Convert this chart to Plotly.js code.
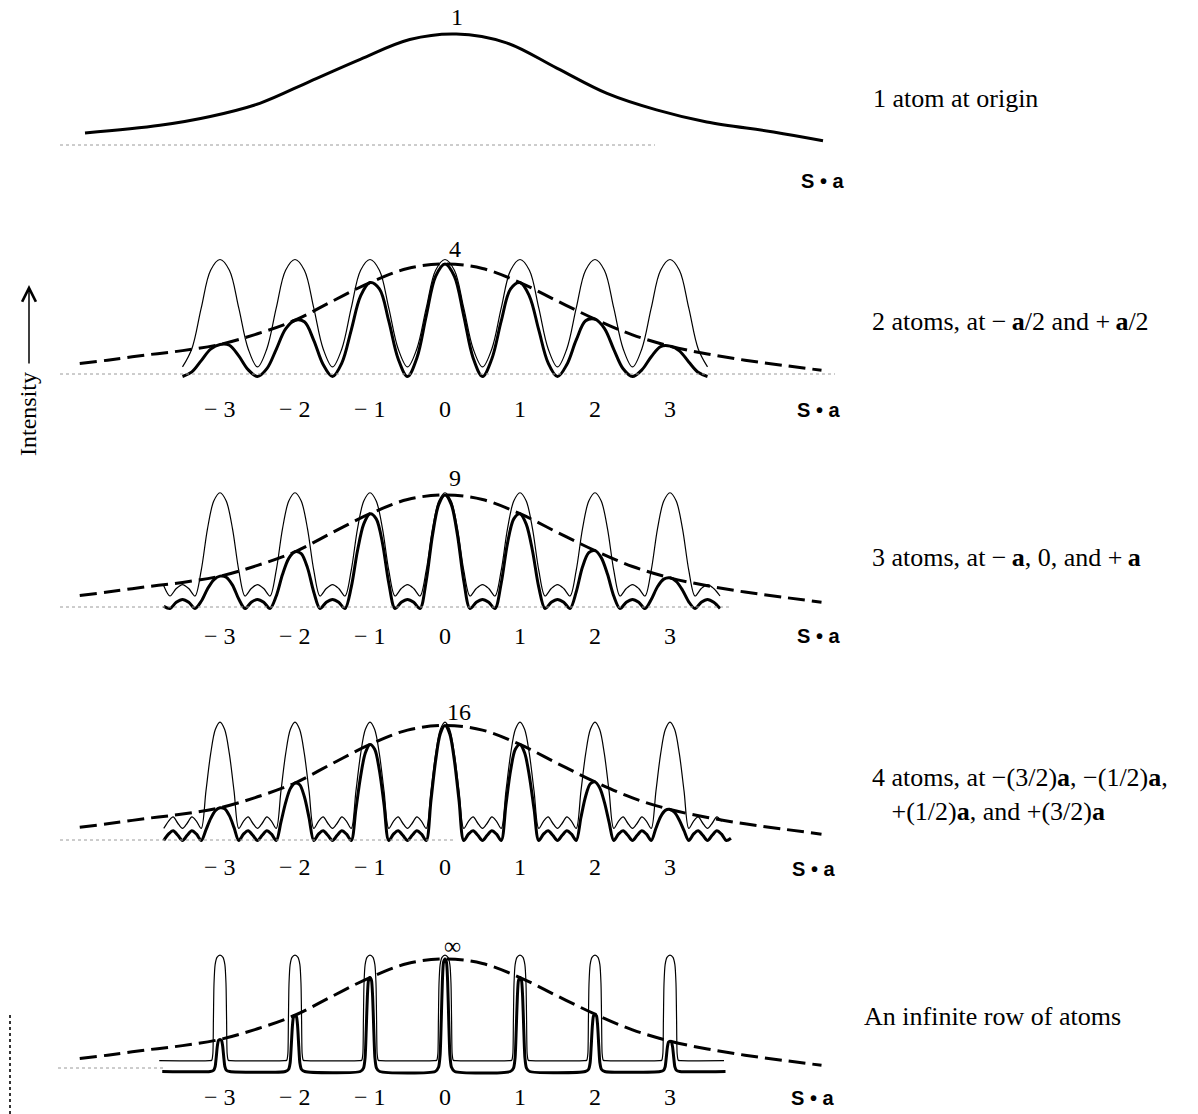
<!DOCTYPE html>
<html><head><meta charset="utf-8">
<script src="https://cdn.plot.ly/plotly-3.0.1.min.js"></script>
<style>html,body{margin:0;padding:0;background:#fff}#chart{width:1198px;height:1114px}</style>
</head><body><div id="chart"></div>
<script>
// ---------- DATA (S·a along x, relative intensity along y; each panel's peak = 1) ----------
// Panel 1: one atom (solid curve)
const p1X = [-4.80,-3.80,-3.13,-2.47,-1.80,-1.13,-0.47,0.15,0.82,1.49,2.16,2.82,3.49,4.38,5.04];
const p1Y = [0.10,0.17,0.25,0.37,0.57,0.77,0.95,1.00,0.92,0.69,0.46,0.31,0.20,0.11,0.03];

// Dashed envelope (N^2 f^2) used in panels 2-5
const envX = [-4.87,-4.5,-4,-3.5,-3,-2.5,-2,-1.5,-1,-0.5,0,0.5,1,1.5,2,2.5,3,3.5,4,4.5,5.02];
const envY = [0.115,0.145,0.19,0.23,0.285,0.38,0.50,0.67,0.835,0.96,1.0,0.96,0.835,0.67,0.51,0.37,0.27,0.20,0.145,0.10,0.055];

// Panel 2: two atoms
const p2X = [-3.5,-3.375,-3.25,-3.125,-3,-2.875,-2.75,-2.625,-2.5,-2.375,-2.25,-2.125,-2,-1.875,-1.75,-1.625,-1.5,-1.375,-1.25,-1.125,-1,-0.875,-0.75,-0.625,-0.5,-0.375,-0.25,-0.125,0,0.125,0.25,0.375,0.5,0.625,0.75,0.875,1,1.125,1.25,1.375,1.5,1.625,1.75,1.875,2,2.125,2.25,2.375,2.5,2.625,2.75,2.875,3,3.125,3.25,3.375,3.5];
const p2Thin = [0.085,0.247,0.61,0.945,1.04,0.945,0.61,0.247,
  0.085,0.247,0.61,0.945,1.04,0.945,0.61,0.247,
  0.085,0.247,0.61,0.945,1.04,0.945,0.61,0.247,
  0.085,0.247,0.61,0.945,1.04,0.945,0.61,0.247,
  0.085,0.247,0.61,0.945,1.04,0.945,0.61,0.247,
  0.085,0.247,0.61,0.945,1.04,0.945,0.61,0.247,
  0.085,0.247,0.61,0.945,1.04,0.945,0.61,0.247,
  0.085];
const p2Thick = [0,0.041,0.141,0.244,0.285,0.278,0.183,0.061,
  0,0.070,0.242,0.423,0.50,0.486,0.322,0.107,
  0,0.121,0.413,0.716,0.835,0.779,0.494,0.158,
  0,0.165,0.539,0.891,1.0,0.891,0.539,0.165,
  0,0.158,0.494,0.779,0.835,0.715,0.414,0.121,
  0,0.107,0.325,0.495,0.51,0.428,0.242,0.069,
  0,0.059,0.176,0.266,0.27,0.228,0.129,0.037,
  0];

// Panel 3: three atoms
const p3X = [-3.75,-3.667,-3.583,-3.5,-3.417,-3.333,-3.25,-3.167,-3.083,-3,
  -2.917,-2.833,-2.75,-2.667,-2.583,-2.5,-2.417,-2.333,-2.25,-2.167,-2.083,-2,
  -1.917,-1.833,-1.75,-1.667,-1.583,-1.5,-1.417,-1.333,-1.25,-1.167,-1.083,-1,
  -0.917,-0.833,-0.75,-0.667,-0.583,-0.5,-0.417,-0.333,-0.25,-0.167,-0.083,0,
  0.083,0.167,0.25,0.333,0.417,0.5,0.583,0.667,0.75,0.833,0.917,1,
  1.083,1.167,1.25,1.333,1.417,1.5,1.583,1.667,1.75,1.833,1.917,2,
  2.083,2.167,2.25,2.333,2.417,2.5,2.583,2.667,2.75,2.833,2.917,3,
  3.083,3.167,3.25,3.333,3.417,3.5,3.583,3.667];
const p3Thin = [0.2,0.11,0.176,0.211,0.176,0.11,0.338,0.702,0.947,1.02,
  0.947,0.702,0.338,0.11,0.176,0.211,0.176,0.11,0.338,0.702,0.947,1.02,
  0.947,0.702,0.338,0.11,0.176,0.211,0.176,0.11,0.338,0.702,0.947,1.02,
  0.947,0.702,0.338,0.11,0.176,0.211,0.176,0.11,0.338,0.702,0.947,1.02,
  0.947,0.702,0.338,0.11,0.176,0.211,0.176,0.11,0.338,0.702,0.947,1.02,
  0.947,0.702,0.338,0.11,0.176,0.211,0.176,0.11,0.338,0.702,0.947,1.02,
  0.947,0.702,0.338,0.11,0.176,0.211,0.176,0.11,0.338,0.702,0.947,1.02,
  0.947,0.702,0.338,0.11,0.176,0.211,0.176,0.11];
const p3Thick = [0.02,0,0.055,0.08,0.055,0,0.064,0.172,0.253,0.285,
  0.276,0.206,0.083,0,0.055,0.08,0.055,0,0.11,0.299,0.442,0.50,
  0.483,0.358,0.146,0,0.055,0.08,0.055,0,0.188,0.509,0.745,0.835,
  0.79,0.574,0.225,0,0.055,0.08,0.055,0,0.245,0.644,0.917,1.0,
  0.917,0.644,0.245,0,0.055,0.08,0.055,0,0.225,0.574,0.79,0.835,
  0.743,0.507,0.188,0,0.055,0.08,0.055,0,0.148,0.366,0.492,0.51,
  0.448,0.301,0.11,0,0.055,0.08,0.055,0,0.08,0.192,0.259,0.27,
  0.238,0.161,0.059,0,0.055,0.08,0.055,0];

// Panel 4: four atoms
const p4X = [-3.75,-3.6875,-3.625,-3.5625,-3.5,-3.4375,-3.375,-3.3125,-3.25,-3.1875,-3.125,-3.0625,-3,
  -2.9375,-2.875,-2.8125,-2.75,-2.6875,-2.625,-2.5625,-2.5,-2.4375,-2.375,-2.3125,-2.25,-2.1875,-2.125,-2.0625,-2,
  -1.9375,-1.875,-1.8125,-1.75,-1.6875,-1.625,-1.5625,-1.5,-1.4375,-1.375,-1.3125,-1.25,-1.1875,-1.125,-1.0625,-1,
  -0.9375,-0.875,-0.8125,-0.75,-0.6875,-0.625,-0.5625,-0.5,-0.4375,-0.375,-0.3125,-0.25,-0.1875,-0.125,-0.0625,0,
  0.0625,0.125,0.1875,0.25,0.3125,0.375,0.4375,0.5,0.5625,0.625,0.6875,0.75,0.8125,0.875,0.9375,1,
  1.0625,1.125,1.1875,1.25,1.3125,1.375,1.4375,1.5,1.5625,1.625,1.6875,1.75,1.8125,1.875,1.9375,2,
  2.0625,2.125,2.1875,2.25,2.3125,2.375,2.4375,2.5,2.5625,2.625,2.6875,2.75,2.8125,2.875,2.9375,3,
  3.0625,3.125,3.1875,3.25,3.3125,3.375,3.4375,3.5,3.5625,3.625,3.6875,3.75,3.8125];
const p4Thin = [0.105,0.167,0.205,0.15,0.105,0.15,0.205,0.167,0.105,0.429,0.753,0.965,1.03,
  0.965,0.753,0.429,0.105,0.167,0.205,0.15,0.105,0.15,0.205,0.167,0.105,0.429,0.753,0.965,1.03,
  0.965,0.753,0.429,0.105,0.167,0.205,0.15,0.105,0.15,0.205,0.167,0.105,0.429,0.753,0.965,1.03,
  0.965,0.753,0.429,0.105,0.167,0.205,0.15,0.105,0.15,0.205,0.167,0.105,0.429,0.753,0.965,1.03,
  0.965,0.753,0.429,0.105,0.167,0.205,0.15,0.105,0.15,0.205,0.167,0.105,0.429,0.753,0.965,1.03,
  0.965,0.753,0.429,0.105,0.167,0.205,0.15,0.105,0.15,0.205,0.167,0.105,0.429,0.753,0.965,1.03,
  0.965,0.753,0.429,0.105,0.167,0.205,0.15,0.105,0.15,0.205,0.167,0.105,0.429,0.753,0.965,1.03,
  0.965,0.753,0.429,0.105,0.167,0.205,0.15,0.105,0.15,0.205,0.167];
const p4Thick = [0,0.055,0.085,0.045,0,0.045,0.085,0.055,0,0.092,0.19,0.259,0.285,
  0.276,0.216,0.112,0,0.055,0.085,0.045,0,0.045,0.085,0.055,0,0.159,0.329,0.451,0.50,
  0.485,0.38,0.197,0,0.055,0.085,0.045,0,0.045,0.085,0.055,0,0.273,0.559,0.76,0.835,
  0.793,0.61,0.311,0,0.055,0.085,0.045,0,0.045,0.085,0.055,0,0.345,0.695,0.928,1.0,
  0.928,0.695,0.345,0,0.055,0.085,0.045,0,0.045,0.085,0.055,0,0.311,0.61,0.793,0.835,
  0.76,0.559,0.273,0,0.055,0.085,0.045,0,0.045,0.085,0.055,0,0.2,0.385,0.493,0.51,
  0.458,0.333,0.16,0,0.055,0.085,0.045,0,0.045,0.085,0.055,0,0.107,0.207,0.262,0.27,
  0.243,0.176,0.085,0,0.055,0.085,0.045,0,0.045,0.085,0.055,0,0.02];

// Panel 5: infinite row
const p5ThinX = [-3.81,
  -3.14,-3.11,-3.095,-3.088,-3.08,-3.065,-3.04,-3,-2.96,-2.935,-2.92,-2.912,-2.905,-2.89,-2.86,
  -2.14,-2.11,-2.095,-2.088,-2.08,-2.065,-2.04,-2,-1.96,-1.935,-1.92,-1.912,-1.905,-1.89,-1.86,
  -1.14,-1.11,-1.095,-1.088,-1.08,-1.065,-1.04,-1,-0.96,-0.935,-0.92,-0.912,-0.905,-0.89,-0.86,
  -0.14,-0.11,-0.095,-0.088,-0.08,-0.065,-0.04,0,0.04,0.065,0.08,0.088,0.095,0.11,0.14,
  0.86,0.89,0.905,0.912,0.92,0.935,0.96,1,1.04,1.065,1.08,1.088,1.095,1.11,1.14,
  1.86,1.89,1.905,1.912,1.92,1.935,1.96,2,2.04,2.065,2.08,2.088,2.095,2.11,2.14,
  2.86,2.89,2.905,2.912,2.92,2.935,2.96,3,3.04,3.065,3.08,3.088,3.095,3.11,3.14,
  3.72];
const p5Thin = [0.096,
  0.096,0.1,0.16,0.45,0.78,0.95,1.015,1.035,1.015,0.95,0.78,0.45,0.16,0.1,0.096,
  0.096,0.1,0.16,0.45,0.78,0.95,1.015,1.035,1.015,0.95,0.78,0.45,0.16,0.1,0.096,
  0.096,0.1,0.16,0.45,0.78,0.95,1.015,1.035,1.015,0.95,0.78,0.45,0.16,0.1,0.096,
  0.096,0.1,0.16,0.45,0.78,0.95,1.015,1.035,1.015,0.95,0.78,0.45,0.16,0.1,0.096,
  0.096,0.1,0.16,0.45,0.78,0.95,1.015,1.035,1.015,0.95,0.78,0.45,0.16,0.1,0.096,
  0.096,0.1,0.16,0.45,0.78,0.95,1.015,1.035,1.015,0.95,0.78,0.45,0.16,0.1,0.096,
  0.096,0.1,0.16,0.45,0.78,0.95,1.015,1.035,1.015,0.95,0.78,0.45,0.16,0.1,0.096,
  0.096];
const p5ThickX = [-3.77,
  -3.13,-3.085,-3.065,-3.05,-3.035,-3.02,-3,-2.98,-2.965,-2.95,-2.935,-2.915,-2.87,
  -2.13,-2.085,-2.065,-2.05,-2.035,-2.02,-2,-1.98,-1.965,-1.95,-1.935,-1.915,-1.87,
  -1.13,-1.085,-1.065,-1.05,-1.035,-1.02,-1,-0.98,-0.965,-0.95,-0.935,-0.915,-0.87,
  -0.13,-0.085,-0.065,-0.05,-0.035,-0.02,0,0.02,0.035,0.05,0.065,0.085,0.13,
  0.87,0.915,0.935,0.95,0.965,0.98,1,1.02,1.035,1.05,1.065,1.085,1.13,
  1.87,1.915,1.935,1.95,1.965,1.98,2,2.02,2.035,2.05,2.065,2.085,2.13,
  2.87,2.915,2.935,2.95,2.965,2.98,3,3.02,3.035,3.05,3.065,3.085,3.13,
  3.74];
const p5Thick = [0,
  0,0.011,0.043,0.128,0.228,0.276,0.285,0.276,0.228,0.128,0.043,0.011,0,
  0,0.02,0.075,0.225,0.40,0.485,0.50,0.485,0.40,0.225,0.075,0.02,0,
  0,0.033,0.125,0.376,0.668,0.81,0.835,0.81,0.668,0.376,0.125,0.033,0,
  0,0.04,0.15,0.45,0.80,0.97,1.0,0.97,0.80,0.45,0.15,0.04,0,
  0,0.033,0.125,0.376,0.668,0.81,0.835,0.81,0.668,0.376,0.125,0.033,0,
  0,0.02,0.077,0.23,0.408,0.495,0.51,0.495,0.408,0.23,0.077,0.02,0,
  0,0.011,0.041,0.122,0.216,0.262,0.27,0.262,0.216,0.122,0.041,0.011,0,
  0];

// Text
const peakLabels = ['1','4','9','16','∞'];
const tickVals = [-3,-2,-1,0,1,2,3];
const tickText = ['− 3','− 2','− 1','0','1','2','3'];
const panelLabels = [
  '1 atom at origin',
  '2 atoms, at −\u2009<b>a</b>/2 and +\u2009<b>a</b>/2',
  '3 atoms, at −\u2009<b>a</b>, 0, and +\u2009<b>a</b>',
  '4 atoms, at −(3/2)<b>a</b>, −(1/2)<b>a</b>,<br>\u00A0\u00A0\u00A0+(1/2)<b>a</b>, and +(3/2)<b>a</b>',
  'An infinite row of atoms'
];
const axisLabel = '<b>S • a</b>';
const sideLabel = 'Intensity';

// ---------- LAYOUT ----------
const W = 1198, H = 1114;
const SERIF = '"Liberation Serif","Times New Roman",serif';
const SANS = '"Liberation Sans",Arial,sans-serif';
const panels = [{z:144,h:110},{z:376.5,h:112.5},{z:608.5,h:113.5},{z:840.5,h:115},{z:1071.5,h:112.5}];
const R0 = -0.3, R1 = 1.3;
const px = x => x / W, py = y => 1 - y / H;

const layout = {
  width: W, height: H, margin: {l:0, r:0, t:0, b:0},
  paper_bgcolor: '#fff', plot_bgcolor: '#fff', showlegend: false,
  xaxis: {range: [-445/75, 753/75], visible: false, fixedrange: true},
  shapes: [], annotations: []
};
panels.forEach((p, i) => {
  const d0 = Math.max(0, 1 - (p.z - R0 * p.h) / H);
  const d1 = Math.min(1, 1 - (p.z - R1 * p.h) / H);
  layout[i === 0 ? 'yaxis' : 'yaxis' + (i + 1)] = {domain: [d0, d1], range: [R0, R1], visible: false, fixedrange: true, anchor: 'x'};
});
const yName = i => i === 0 ? 'y' : 'y' + (i + 1);

function line(x, y, i, width, dash, smooth) {
  return {type: 'scatter', mode: 'lines', x: x, y: y, xaxis: 'x', yaxis: yName(i),
    line: {color: '#000', width: width, dash: dash || 'solid', shape: 'spline', smoothing: smooth || 1},
    hoverinfo: 'skip'};
}
const DASH = '17px,7px';
const traces = [
  line(p1X, p1Y, 0, 3),
  line(p2X, p2Thin, 1, 1.2), line(envX, envY, 1, 3, DASH), line(p2X, p2Thick, 1, 3),
  line(p3X, p3Thin, 2, 1.2, null, 0.9), line(envX, envY, 2, 3, DASH), line(p3X, p3Thick, 2, 3, null, 0.9),
  line(p4X.slice(0, p4Thin.length), p4Thin, 3, 1.2, null, 0.9), line(envX, envY, 3, 3, DASH), line(p4X, p4Thick, 3, 3, null, 0.9),
  line(p5ThinX, p5Thin, 4, 1.2, null, 0.6), line(envX, envY, 4, 3, DASH), line(p5ThickX, p5Thick, 4, 3, null, 0.6)
];

// faint dotted baselines (scan residue of the zero lines)
const base = [[60,655,145],[60,835,374],[60,730,607],[60,455,840],[58,163,1068]];
base.forEach(b => layout.shapes.push({type:'line', xref:'paper', yref:'paper',
  x0: px(b[0]), x1: px(b[1]), y0: py(b[2]), y1: py(b[2]),
  line: {color: '#9a9a9a', width: 1, dash: 'dot'}}));
// left margin mark
layout.shapes.push({type:'line', xref:'paper', yref:'paper', x0: px(10), x1: px(10), y0: py(1015), y1: py(1114),
  line: {color: '#333', width: 2, dash: 'dot'}});

const ann = layout.annotations;
function txt(t, x, y, size, family, anchor) {
  ann.push({text: t, xref: 'paper', yref: 'paper', x: px(x), y: py(y), showarrow: false, align: 'left',
    xanchor: anchor || 'center', yanchor: 'middle', font: {size: size, family: family, color: '#000'}});
}
// peak values
const peakPos = [[457,17],[455,249],[455,478],[459,712],[452,946]];
peakLabels.forEach((t, i) => txt(t, peakPos[i][0], peakPos[i][1], 24, SERIF));
// S · a labels
const saPos = [[822,181],[818,410],[818,636],[814,869],[812,1098]];
saPos.forEach(p => txt(axisLabel, p[0], p[1], 20, SANS));
// tick numbers under panels 2-5 (placed with the x scale)
const tickRows = [409, 636, 867, 1097];
tickRows.forEach(r => tickVals.forEach((v, j) => ann.push({text: tickText[j], xref: 'x', yref: 'paper',
  x: v, y: py(r), showarrow: false, xanchor: 'center', yanchor: 'middle',
  font: {size: 24, family: SERIF, color: '#000'}})));
// right-hand descriptions
const labPos = [[871,98],[870,322],[870,557],[870,794],[862,1016]];
panelLabels.forEach((t, i) => txt(t, labPos[i][0], labPos[i][1], 26, SERIF, 'left'));
// Intensity label with arrow
ann.push({text: sideLabel, xref: 'paper', yref: 'paper', x: px(28), y: py(414), showarrow: false,
  textangle: -90, xanchor: 'center', yanchor: 'middle', font: {size: 24, family: SERIF, color: '#000'}});
ann.push({text: '', xref: 'paper', yref: 'paper', x: px(29), y: py(285), ax: 0, ay: 80,
  showarrow: true, arrowhead: 5, arrowsize: 1.8, arrowwidth: 1.5, arrowcolor: '#000', standoff: 0});

Plotly.newPlot('chart', traces, layout, {staticPlot: true, displayModeBar: false});
</script>
</body></html>
